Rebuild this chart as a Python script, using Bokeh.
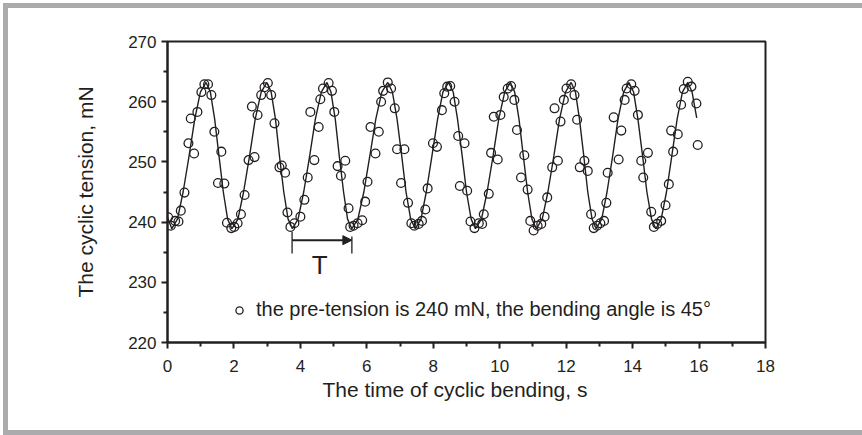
from bokeh.plotting import figure
from bokeh.models import Range1d, FixedTicker, Legend, LegendItem, Arrow, NormalHead, Label, Title
from bokeh.embed import file_html
from bokeh.resources import INLINE

INK = "#231f20"
FONT = "Liberation Sans"

# ---- axis ticks ----
x_ticks = [0, 2, 4, 6, 8, 10, 12, 14, 16, 18]
x_minor = [1, 3, 5, 7, 9, 11, 13, 15, 17]
y_ticks = [220, 230, 240, 250, 260, 270]
y_minor = [225, 235, 245, 255, 265]

# ---- measured points (time s, tension mN) ----
pts_t = [0.02, 0.10, 0.23, 0.33, 0.40, 0.51, 0.63, 0.70, 0.80, 0.90, 1.02, 1.11, 1.22, 1.32,
         1.41, 1.52, 1.62, 1.71, 1.79, 1.92, 2.01, 2.11, 2.21, 2.32, 2.44, 2.54, 2.62, 2.71,
         2.82, 2.92, 3.02, 3.12, 3.22, 3.37, 3.44, 3.54, 3.61, 3.70, 3.82, 4.00, 4.12, 4.22,
         4.30, 4.42, 4.55, 4.60, 4.68, 4.85, 4.95, 5.02, 5.12, 5.22, 5.35, 5.45, 5.50, 5.60,
         5.72, 5.86, 5.95, 6.02, 6.11, 6.26, 6.36, 6.43, 6.49, 6.63, 6.73, 6.84, 6.91, 7.03,
         7.13, 7.24, 7.34, 7.43, 7.56, 7.66, 7.76, 7.83, 7.99, 8.11, 8.26, 8.33, 8.42, 8.51,
         8.64, 8.75, 8.80, 8.94, 9.02, 9.12, 9.24, 9.37, 9.47, 9.52, 9.67, 9.74, 9.82, 9.94,
         10.02, 10.12, 10.24, 10.34, 10.44, 10.52, 10.64, 10.74, 10.84, 10.92, 11.02, 11.14,
         11.25, 11.35, 11.43, 11.58, 11.65, 11.75, 11.83, 11.93, 12.01, 12.15, 12.25, 12.33,
         12.41, 12.55, 12.65, 12.75, 12.83, 12.93, 13.03, 13.14, 13.21, 13.25, 13.43, 13.58,
         13.66, 13.76, 13.82, 13.96, 14.06, 14.16, 14.26, 14.32, 14.46, 14.56, 14.64, 14.74,
         14.86, 14.99, 15.09, 15.16, 15.22, 15.36, 15.46, 15.54, 15.66, 15.77, 15.92, 15.96]
pts_y = [240.8, 239.4, 240.2, 240.1, 241.9, 244.9, 253.1, 257.2, 251.4, 258.3, 261.6, 262.9, 262.9, 261.1,
         255.0, 246.5, 251.7, 246.4, 239.9, 239.0, 239.2, 239.8, 241.3, 244.5, 250.3, 259.2, 250.8, 257.8,
         261.1, 262.4, 263.1, 261.1, 256.4, 249.1, 249.4, 248.2, 241.6, 239.2, 239.8, 240.9, 243.7, 247.4,
         258.3, 250.3, 255.8, 260.4, 262.2, 263.1, 261.8, 258.3, 249.3, 247.7, 250.2, 242.3, 239.2, 239.4,
         239.8, 240.3, 243.4, 246.7, 255.8, 251.4, 255.0, 260.0, 261.8, 263.2, 262.2, 258.9, 252.1, 246.5,
         252.1, 243.2, 239.8, 239.4, 239.7, 240.2, 242.1, 245.6, 253.1, 252.5, 258.6, 261.4, 262.5, 262.6,
         260.0, 254.3, 246.0, 253.1, 245.2, 240.1, 239.0, 239.8, 239.7, 241.3, 244.7, 251.5, 257.5, 250.4,
         257.8, 260.8, 262.2, 262.6, 260.3, 255.3, 247.4, 251.1, 245.4, 240.2, 238.6, 239.4,
         239.7, 240.9, 244.1, 249.1, 258.9, 250.2, 256.7, 260.3, 262.2, 262.9, 261.1, 257.0,
         249.1, 250.2, 248.5, 241.3, 239.0, 239.4, 239.8, 240.2, 243.2, 248.2, 257.4, 250.4,
         255.2, 260.3, 262.2, 262.9, 261.8, 257.8, 250.2, 247.4, 251.5, 241.7, 239.2, 239.7,
         240.2, 242.8, 246.3, 255.2, 251.7, 254.6, 259.5, 262.1, 263.3, 262.5, 259.7, 252.8]

# ---- fitted curve ----
curve_t = [0.00,
           0.13, 0.30, 0.47, 0.65, 0.82, 0.99, 1.16,
           1.29, 1.42, 1.55, 1.68, 1.81, 1.94,
           2.12, 2.29, 2.47, 2.64, 2.82, 2.99,
           3.12, 3.25, 3.37, 3.50, 3.63, 3.76,
           3.93, 4.10, 4.28, 4.45, 4.63, 4.80,
           4.92, 5.05, 5.17, 5.30, 5.42, 5.55,
           5.73, 5.91, 6.09, 6.27, 6.45, 6.63,
           6.77, 6.91, 7.05, 7.18, 7.32, 7.46,
           7.63, 7.79, 7.96, 8.13, 8.29, 8.46,
           8.60, 8.73, 8.87, 9.00, 9.14, 9.27,
           9.45, 9.62, 9.80, 9.97, 10.15, 10.32,
           10.45, 10.58, 10.71, 10.84, 10.97, 11.10,
           11.28, 11.45, 11.63, 11.80, 11.98, 12.15,
           12.28, 12.40, 12.53, 12.65, 12.78, 12.90,
           13.07, 13.23, 13.40, 13.56, 13.73, 13.89,
           14.03, 14.16, 14.30, 14.43, 14.57, 14.70,
           14.86, 15.02, 15.18, 15.34, 15.50, 15.66,
           15.79, 15.93]
curve_y = [240.8,
           238.9, 240.5, 245.0, 251.0, 257.1, 261.6, 263.2,
           261.6, 257.1, 251.0, 245.0, 240.5, 238.9,
           240.5, 245.0, 251.0, 257.1, 261.6, 263.2,
           261.6, 257.1, 251.0, 245.0, 240.5, 238.9,
           240.5, 245.0, 251.0, 257.1, 261.6, 263.2,
           261.6, 257.1, 251.0, 245.0, 240.5, 238.9,
           240.5, 245.0, 251.0, 257.1, 261.6, 263.2,
           261.6, 257.1, 251.0, 245.0, 240.5, 238.9,
           240.5, 245.0, 251.0, 257.1, 261.6, 263.2,
           261.6, 257.1, 251.0, 245.0, 240.5, 238.9,
           240.5, 245.0, 251.0, 257.1, 261.6, 263.2,
           261.6, 257.1, 251.0, 245.0, 240.5, 238.9,
           240.5, 245.0, 251.0, 257.1, 261.6, 263.2,
           261.6, 257.1, 251.0, 245.0, 240.5, 238.9,
           240.5, 245.0, 251.0, 257.1, 261.6, 263.2,
           261.6, 257.1, 251.0, 245.0, 240.5, 238.9,
           240.5, 245.0, 251.0, 257.1, 261.6, 263.2,
           261.6, 257.3]

# ---- period annotation ----
period_start = 3.75
period_end = 5.55
period_level = 237.0

x_label = "The time of cyclic bending, s"
y_label = "The cyclic tension, mN"
legend_text = "the pre-tension is 240 mN, the bending angle is 45°"

GRAY = "#ababad"
p = figure(width=862, height=435, output_backend="svg", toolbar_location=None,
           x_range=Range1d(0, 18), y_range=Range1d(220, 270),
           min_border_left=167, min_border_right=97, min_border_top=41, min_border_bottom=93,
           background_fill_color="white", border_fill_color=None)
# page frame: gray bands (top/left at 3-8 px, bottom 5 px), drawn as inset shadows
p.styles = {"box-shadow": f"inset 0 3px 0 0 white, inset 3px 0 0 0 white, "
                          f"inset 0 8px 0 0 {GRAY}, inset 8px 0 0 0 {GRAY}, "
                          f"inset 0 -5px 0 0 {GRAY}",
            "background-color": "white"}

p.grid.visible = False
p.outline_line_color = INK
p.outline_line_width = 2

p.xaxis.ticker = FixedTicker(ticks=x_ticks, minor_ticks=x_minor)
p.yaxis.ticker = FixedTicker(ticks=y_ticks, minor_ticks=y_minor)
for ax in (p.xaxis[0], p.yaxis[0]):
    ax.axis_line_color = INK
    ax.axis_line_width = 2
    ax.major_tick_line_color = INK
    ax.major_tick_line_width = 2
    ax.minor_tick_line_color = INK
    ax.minor_tick_line_width = 2
    ax.major_tick_in = 0
    ax.major_tick_out = 6
    ax.minor_tick_in = 0
    ax.minor_tick_out = 4
    ax.major_label_text_font = FONT
    ax.major_label_text_font_size = "17px"
    ax.major_label_text_color = INK
    ax.axis_label_text_font = FONT
    ax.axis_label_text_font_size = "21px"
    ax.axis_label_text_font_style = "normal"
    ax.axis_label_text_color = INK
p.yaxis.axis_label = y_label
p.xaxis.major_label_standoff = 11
p.yaxis.major_label_standoff = 5
p.yaxis.axis_label_standoff = 28

# x-axis title (slightly left of centre, as in the original)
p.add_layout(Title(text=x_label, align="left", offset=155, standoff=3,
                   text_font=FONT, text_font_size="21px", text_font_style="normal",
                   text_color=INK), "below")

p.line(curve_t, curve_y, line_color=INK, line_width=1.4)
sc = p.scatter(pts_t, pts_y, marker="circle", size=8.8, fill_color=None,
               line_color=INK, line_width=1.3)

# period marker
p.segment(x0=[period_start, period_end], y0=[234.8, 234.8],
          x1=[period_start, period_end], y1=[238.4, 237.6], line_color=INK, line_width=1.3)
p.add_layout(Arrow(end=NormalHead(size=9, fill_color=INK, line_color=INK, line_width=1),
                   x_start=period_start, y_start=period_level, x_end=period_end, y_end=period_level,
                   line_color=INK, line_width=2))
p.add_layout(Label(x=4.58, y=232.9, text="T", text_align="center", text_baseline="alphabetic",
                   text_font=FONT, text_font_size="26px", text_color=INK))

legend = Legend(items=[LegendItem(label=legend_text, renderers=[sc])], location=(63, 21),
                glyph_width=18, glyph_height=18, label_standoff=8, padding=0, margin=0,
                label_text_font=FONT, label_text_font_size="20px", label_text_color=INK,
                background_fill_alpha=0, border_line_alpha=0)
p.add_layout(legend)

open("out.html", "w").write(file_html(p, INLINE))
